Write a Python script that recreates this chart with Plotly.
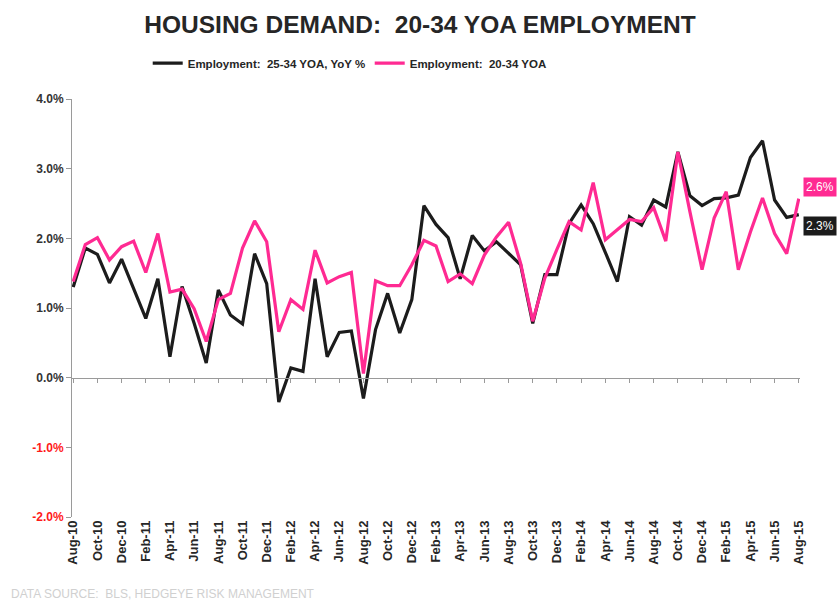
import plotly.graph_objects as go

months = ["Aug-10","Sep-10","Oct-10","Nov-10","Dec-10","Jan-11","Feb-11","Mar-11","Apr-11","May-11","Jun-11","Jul-11",
          "Aug-11","Sep-11","Oct-11","Nov-11","Dec-11","Jan-12","Feb-12","Mar-12","Apr-12","May-12","Jun-12","Jul-12",
          "Aug-12","Sep-12","Oct-12","Nov-12","Dec-12","Jan-13","Feb-13","Mar-13","Apr-13","May-13","Jun-13","Jul-13",
          "Aug-13","Sep-13","Oct-13","Nov-13","Dec-13","Jan-14","Feb-14","Mar-14","Apr-14","May-14","Jun-14","Jul-14",
          "Aug-14","Sep-14","Oct-14","Nov-14","Dec-14","Jan-15","Feb-15","Mar-15","Apr-15","May-15","Jun-15","Jul-15",
          "Aug-15"]

emp_25_34 = [1.30, 1.86, 1.77, 1.36, 1.70, 1.27, 0.85, 1.42, 0.30, 1.31, 0.78, 0.21,
             1.26, 0.90, 0.77, 1.78, 1.35, -0.35, 0.14, 0.09, 1.42, 0.30, 0.65, 0.67,
             -0.30, 0.69, 1.21, 0.64, 1.12, 2.47, 2.20, 2.01, 1.42, 2.04, 1.82, 1.95,
             1.78, 1.62, 0.78, 1.48, 1.48, 2.21, 2.48, 2.21, 1.80, 1.38, 2.31, 2.19,
             2.55, 2.45, 3.24, 2.61, 2.47, 2.57, 2.58, 2.62, 3.16, 3.40, 2.55, 2.30,
             2.34]

emp_20_34 = [1.38, 1.91, 2.01, 1.69, 1.88, 1.96, 1.51, 2.07, 1.23, 1.27, 0.99, 0.52,
             1.12, 1.21, 1.86, 2.25, 1.95, 0.66, 1.12, 0.98, 1.83, 1.36, 1.45, 1.51,
             0.06, 1.39, 1.32, 1.32, 1.62, 1.97, 1.89, 1.38, 1.49, 1.35, 1.76, 2.02,
             2.23, 1.64, 0.81, 1.43, 1.84, 2.24, 2.12, 2.80, 1.98, 2.12, 2.27, 2.24,
             2.44, 1.96, 3.24, 2.38, 1.55, 2.29, 2.67, 1.55, 2.09, 2.58, 2.07, 1.78,
             2.57]

y_ticks = [4.0, 3.0, 2.0, 1.0, 0.0, -1.0, -2.0]
x_tick_labels = months[::2]

BLACK = "#1c1c1c"
PINK = "#ff2a92"
FONT = "Liberation Sans, Arial, sans-serif"

def ytext(v):
    s = f"{v:.1f}%"
    if v < 0:
        return f"<span style='color:#ff1a1a'>{s}</span>"
    return s

fig = go.Figure()
fig.add_trace(go.Scatter(x=months, y=emp_25_34, mode="lines", name="<b>Employment:  25-34 YOA, YoY %</b>",
                         line=dict(color=BLACK, width=3.2), hoverinfo="x+y"))
fig.add_trace(go.Scatter(x=months, y=emp_20_34, mode="lines", name="<b>Employment:  20-34 YOA</b>",
                         line=dict(color=PINK, width=3.2), hoverinfo="x+y"))
# invisible helper trace to host the zero-line tick axis
fig.add_trace(go.Scatter(x=months, y=emp_20_34, mode="lines", xaxis="x2", showlegend=False,
                         line=dict(color="rgba(0,0,0,0)", width=0), hoverinfo="skip"))

fig.add_annotation(x=1.004, xref="paper", y=2.73, yref="y", xanchor="left", yanchor="middle",
                   text=f"{emp_20_34[-1]:.1f}%", showarrow=False, bgcolor=PINK,
                   font=dict(family=FONT, size=12, color="white"), borderpad=2)
fig.add_annotation(x=1.004, xref="paper", y=2.17, yref="y", xanchor="left", yanchor="middle",
                   text=f"{emp_25_34[-1]:.1f}%", showarrow=False, bgcolor=BLACK,
                   font=dict(family=FONT, size=12, color="white"), borderpad=2)
fig.add_annotation(x=-0.086, xref="paper", y=-0.185, yref="paper", xanchor="left", yanchor="middle",
                   text="DATA SOURCE:  BLS, HEDGEYE RISK MANAGEMENT", showarrow=False,
                   font=dict(family=FONT, size=12, color="#d0d0d0"))

fig.update_layout(
    width=840, height=610,
    margin=dict(l=72, r=40, t=99, b=93),
    paper_bgcolor="white", plot_bgcolor="white",
    title=dict(text="<b>HOUSING DEMAND:  20-34 YOA EMPLOYMENT</b>", x=0.5, xanchor="center",
               y=1 - 24 / 610, yanchor="middle", font=dict(family=FONT, size=24.5, color="#262626")),
    legend=dict(orientation="h", x=0.104, xanchor="left", y=1.086, yanchor="middle",
                font=dict(family=FONT, size=11.5, color="#262626"), itemwidth=30,
                entrywidth=177, entrywidthmode="pixels", bgcolor="rgba(0,0,0,0)"),
    showlegend=True,
    xaxis=dict(type="category", categoryorder="array", categoryarray=months,
               range=[-0.1, 60.1], tickmode="array", tickvals=x_tick_labels,
               ticktext=[f"<b>{t}</b>" for t in x_tick_labels], tickangle=-90,
               tickfont=dict(family=FONT, size=13, color="#262626"),
               showline=False, showgrid=False, zeroline=False, ticks=""),
    xaxis2=dict(type="category", categoryorder="array", categoryarray=months, overlaying="x",
                anchor="free", position=2 / 6, range=[-0.1, 60.1], tickmode="array",
                tickvals=x_tick_labels, showticklabels=False, ticks="outside", ticklen=4,
                tickcolor="#9a9a9a", showline=True, linecolor="#9a9a9a", linewidth=1,
                showgrid=False, zeroline=False),
    yaxis=dict(range=[-2, 4], tickmode="array", tickvals=y_ticks,
               ticktext=[f"<b>{ytext(v)}</b>" for v in y_ticks],
               tickfont=dict(family=FONT, size=12, color="#333333"),
               showline=True, linecolor="#9a9a9a", linewidth=1, ticks="outside", ticklen=5,
               tickcolor="#9a9a9a", showgrid=False, zeroline=False),
)

fig.write_html("out.html", config={"displayModeBar": False},
               post_script="document.body.style.margin='0';")
